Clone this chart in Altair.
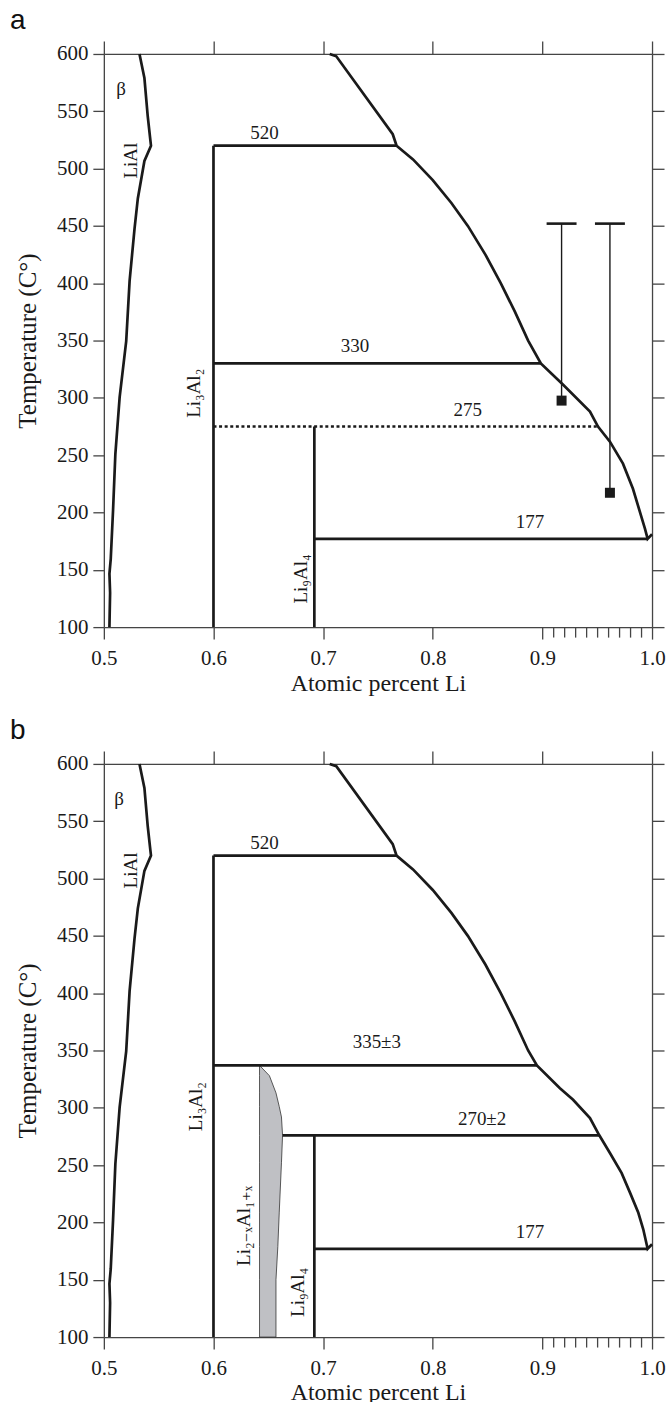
import altair as alt
import pandas as pd

SERIF = "Liberation Serif, DejaVu Serif"
SANS = "Liberation Sans"
INK = "#1a1a1a"
AXC = "#454545"

# ---------------- data ----------------
x_ticks = [0.5, 0.6, 0.7, 0.8, 0.9, 1.0]
x_minor_ticks = [0.91, 0.92, 0.93, 0.94, 0.95, 0.96, 0.97, 0.98, 0.99]
y_ticks = [100, 150, 200, 250, 300, 350, 400, 450, 500, 550, 600]

# LiAl (beta) phase boundary (both panels)
beta_T = [100, 130, 146.5, 159.6, 202, 251, 300.4, 349.5, 402, 447.7, 474, 506.7, 520, 525, 546, 579, 600]
beta_x = [0.5051, 0.5057, 0.5051, 0.5063, 0.5084, 0.5105, 0.5144, 0.5204, 0.5235, 0.528, 0.531, 0.537,
          0.543, 0.5424, 0.540, 0.537, 0.5325]

# liquidus, panel a
liq_a_T = [600, 598, 530, 520, 508, 490, 470, 450, 425, 400, 375, 350, 330, 311.6, 288, 275, 261.8,
           242.6, 220.7, 185.7, 177, 181]
liq_a_x = [0.706, 0.712, 0.7635, 0.767, 0.782, 0.800, 0.817, 0.832, 0.848, 0.862, 0.875, 0.887, 0.8986,
           0.9187, 0.9434, 0.9507, 0.9616, 0.9735, 0.9826, 0.9936, 0.996, 1.0]

# liquidus, panel b
liq_b_T = [600, 598, 530, 520, 508, 490, 470, 450, 425, 400, 375, 350, 337, 317, 307, 291, 276, 260.6,
           243, 225.8, 208.4, 194, 177, 181]
liq_b_x = [0.706, 0.712, 0.7635, 0.767, 0.782, 0.800, 0.817, 0.832, 0.848, 0.862, 0.875, 0.887, 0.895,
           0.916, 0.928, 0.9434, 0.9519, 0.9616, 0.9723, 0.980, 0.9875, 0.992, 0.996, 1.0]

# invariant (horizontal) lines and line compounds (vertical lines), panel a
hline_a_T = [520, 330, 177]
hline_a_x1 = [0.6, 0.6, 0.692]
hline_a_x2 = [0.767, 0.8986, 0.996]
dotted_a_T = [275]
dotted_a_x1 = [0.6]
dotted_a_x2 = [0.9507]
vline_a_x = [0.6, 0.692]
vline_a_T1 = [100, 100]
vline_a_T2 = [520, 275]

# panel b
hline_b_T = [520, 337, 276, 177]
hline_b_x1 = [0.6, 0.6, 0.663, 0.692]
hline_b_x2 = [0.767, 0.895, 0.9519, 0.996]
vline_b_x = [0.6, 0.692]
vline_b_T1 = [100, 100]
vline_b_T2 = [520, 276]

# measurement bars, panel a
bar_x = [0.9175, 0.9616]
bar_low = [297.6, 217.2]
bar_high = [452, 452]

# Li2-xAl1+x field, panel b
gray_T = [100, 150, 179, 209, 252, 276, 292, 301, 313, 328, 337]
gray_x_left = [0.642, 0.642, 0.642, 0.642, 0.642, 0.642, 0.642, 0.642, 0.642, 0.642, 0.642]
gray_x_right = [0.657, 0.657, 0.6587, 0.660, 0.662, 0.663, 0.662, 0.660, 0.657, 0.651, 0.642]

# labels
lab_a_text = ["β", "520", "330", "275", "177"]
lab_a_x = [0.5157, 0.6466, 0.729, 0.832, 0.8886]
lab_a_T = [569, 531, 345, 289, 192]
rot_a_text = ["LiAl", "Li₃Al₂", "Li₉Al₄"]
rot_a_x = [0.5248, 0.5826, 0.680]
rot_a_T = [507, 304, 142]

lab_b_text = ["β", "520", "335±3", "270±2", "177"]
lab_b_x = [0.514, 0.6466, 0.749, 0.845, 0.8886]
lab_b_T = [569.6, 531, 357, 290, 192]
rot_b_text = ["LiAl", "Li₃Al₂", "Li₂₋ₓAl₁₊ₓ", "Li₉Al₄"]
rot_b_x = [0.5248, 0.584, 0.628, 0.677]
rot_b_T = [507, 301, 197, 139]

# ---------------- chart ----------------
xs = alt.Scale(domain=[0.5, 1.0], nice=False, zero=False)
ys = alt.Scale(domain=[100, 600], nice=False, zero=False)

common_axis = dict(domainColor=AXC, tickColor=AXC, domainWidth=1.3, tickWidth=1.3, grid=False)

ax_bottom = alt.Axis(orient="bottom", values=x_ticks, format=".1f", tickSize=12, labelFont=SERIF,
                     labelFontSize=21, labelColor=INK, labelPadding=8, labelFlush=False,
                     title="Atomic percent Li",
                     titleFont=SERIF, titleFontSize=24, titleFontWeight="normal", titleColor=INK,
                     titlePadding=3, **common_axis)
ax_left = alt.Axis(orient="left", values=y_ticks, tickSize=11, labelFont=SERIF, labelFontSize=21,
                   labelColor=INK, labelPadding=5, labelFlush=False, title="Temperature (C°)",
                   titleFont=SERIF, titleFontSize=25, titleFontWeight="normal", titleColor=INK,
                   titlePadding=16, **common_axis)
ax_top = alt.Axis(orient="top", values=x_ticks, tickSize=13, labels=False, title=None, **common_axis)
ax_right = alt.Axis(orient="right", values=y_ticks, tickSize=12, labels=False, title=None, **common_axis)
ax_minor = alt.Axis(orient="bottom", values=x_minor_ticks, tickSize=10, labels=False, title=None,
                    domain=False, tickColor=AXC, tickWidth=1.3, grid=False)


def line_df(T, x):
    return pd.DataFrame({"T": T, "x": x, "i": list(range(len(T)))})


def curve(df, xaxis=None, yaxis=None):
    return alt.Chart(df).mark_line(color=INK, strokeWidth=2.7, strokeJoin="miter").encode(
        x=alt.X("x:Q", scale=xs, axis=xaxis),
        y=alt.Y("T:Q", scale=ys, axis=yaxis),
        order="i:Q",
    )


def hrules(T, x1, x2, dash=None):
    df = pd.DataFrame({"T": T, "x1": x1, "x2": x2})
    mk = dict(color=INK, strokeWidth=2.7)
    if dash:
        mk["strokeDash"] = dash
    return alt.Chart(df).mark_rule(**mk).encode(
        x=alt.X("x1:Q", scale=xs, axis=None), x2="x2:Q",
        y=alt.Y("T:Q", scale=ys, axis=None))


def vrules(x, T1, T2, width=2.7):
    df = pd.DataFrame({"x": x, "T1": T1, "T2": T2})
    return alt.Chart(df).mark_rule(color=INK, strokeWidth=width).encode(
        x=alt.X("x:Q", scale=xs, axis=None),
        y=alt.Y("T1:Q", scale=ys, axis=None), y2="T2:Q")


def texts(txt, x, T, angle=0, xaxis=None):
    df = pd.DataFrame({"t": txt, "x": x, "T": T})
    return alt.Chart(df).mark_text(font=SERIF, fontSize=19, color=INK, align="center",
                                   baseline="middle", angle=angle).encode(
        x=alt.X("x:Q", scale=xs, axis=xaxis),
        y=alt.Y("T:Q", scale=ys, axis=None),
        text="t:N")


def panel(tag, liq_T, liq_x, hT, hx1, hx2, vx, vT1, vT2, lab, rot, extra):
    layers = list(extra.get("under", []))
    layers += [
        hrules(hT, hx1, hx2),
        vrules(vx, vT1, vT2),
        curve(line_df(beta_T, beta_x), ax_bottom, ax_left),
        curve(line_df(liq_T, liq_x), ax_top, ax_right),
    ]
    layers += list(extra.get("over", []))
    layers += [texts(*lab), texts(*rot, angle=270, xaxis=ax_minor)]
    return alt.layer(*layers).resolve_axis(x="independent", y="independent").properties(
        width=549, height=574,
        title=alt.TitleParams(text=tag, anchor="start", frame="group", font=SANS, fontSize=28,
                              fontWeight="normal", color="#111", dx=-94, dy=27, offset=10,
                              baseline="alphabetic"))


# panel a extras
dotted = hrules(dotted_a_T, dotted_a_x1, dotted_a_x2, dash=[3, 2.6])
bars_df = pd.DataFrame({"x": bar_x, "lo": bar_low, "hi": bar_high})
bar_lines = alt.Chart(bars_df).mark_rule(color=INK, strokeWidth=1.4).encode(
    x=alt.X("x:Q", scale=xs, axis=None), y=alt.Y("lo:Q", scale=ys, axis=None), y2="hi:Q")
bar_caps = alt.Chart(bars_df).mark_tick(orient="horizontal", size=30, thickness=2.6, color=INK,
                                        opacity=1).encode(
    x=alt.X("x:Q", scale=xs, axis=None), y=alt.Y("hi:Q", scale=ys, axis=None))
bar_pts = alt.Chart(bars_df).mark_square(size=100, color=INK, filled=True, opacity=1).encode(
    x=alt.X("x:Q", scale=xs, axis=None), y=alt.Y("lo:Q", scale=ys, axis=None))

panel_a = panel("a", liq_a_T, liq_a_x, hline_a_T, hline_a_x1, hline_a_x2,
                vline_a_x, vline_a_T1, vline_a_T2,
                (lab_a_text, lab_a_x, lab_a_T), (rot_a_text, rot_a_x, rot_a_T),
                {"over": [dotted, bar_lines, bar_caps, bar_pts]})

# panel b extras
gray_df = pd.DataFrame({"T": gray_T, "xl": gray_x_left, "xr": gray_x_right})
gray = alt.Chart(gray_df).mark_area(orient="horizontal", color="#bfc0c4", stroke="#333333",
                                    strokeWidth=0.8, opacity=1).encode(
    y=alt.Y("T:Q", scale=ys, axis=None),
    x=alt.X("xl:Q", scale=xs, axis=None), x2="xr:Q")

panel_b = panel("b", liq_b_T, liq_b_x, hline_b_T, hline_b_x1, hline_b_x2,
                vline_b_x, vline_b_T1, vline_b_T2,
                (lab_b_text, lab_b_x, lab_b_T), (rot_b_text, rot_b_x, rot_b_T),
                {"under": [gray]})

chart = alt.vconcat(panel_a, panel_b, spacing=20).properties(
    padding={"left": 9, "top": 5, "right": 5, "bottom": 5}
).configure_view(strokeWidth=0).configure(background="white")

chart.save("out.html", embed_options={"renderer": "svg", "actions": False})
